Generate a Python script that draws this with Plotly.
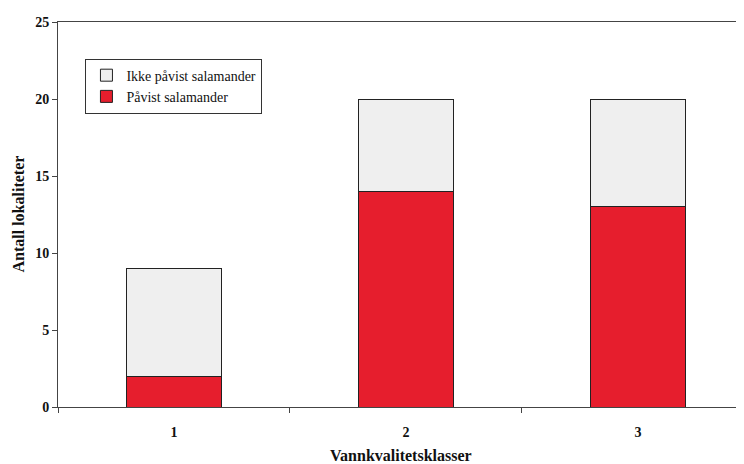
import plotly.graph_objects as go

categories = ["1", "2", "3"]
pavist = [2, 14, 13]
ikke_pavist = [7, 6, 7]
y_ticks = [0, 5, 10, 15, 20, 25]

serif = "Liberation Serif, Times New Roman, serif"

fig = go.Figure()
fig.add_trace(go.Bar(
    x=categories, y=pavist, name="Påvist salamander",
    marker=dict(color="#E61E2D", line=dict(color="#222222", width=1)),
    width=0.41,
))
fig.add_trace(go.Bar(
    x=categories, y=ikke_pavist, name="Ikke påvist salamander",
    marker=dict(color="#EFEFEF", line=dict(color="#222222", width=1)),
    width=0.41,
))

fig.update_layout(
    barmode="stack",
    width=736, height=456,
    margin=dict(l=50, r=0, t=14, b=57, autoexpand=False),
    paper_bgcolor="white", plot_bgcolor="white",
    font=dict(family=serif, color="#111111"),
    showlegend=True,
    legend=dict(
        x=0.04, y=0.905, xanchor="left", yanchor="top",
        traceorder="reversed",
        bgcolor="white", bordercolor="#333333", borderwidth=1,
        font=dict(family=serif, size=14, color="#111111"),
        itemwidth=30, tracegroupgap=0,
    ),
    xaxis=dict(
        type="category",
        range=[-0.5, 2.457],
        tickson="boundaries",
        ticks="outside", ticklen=5, tickcolor="#444444",
        showline=True, linecolor="#444444", linewidth=1, mirror=True,
        showgrid=False, automargin=False,
        tickfont=dict(family=serif, size=14, color="#111111"),
        ticklabelstandoff=12,
        tickvals=categories,
        ticktext=[f"<b>{c}</b>" for c in categories],
    ),
    yaxis=dict(
        range=[0, 25],
        tickvals=y_ticks,
        ticktext=[f"<b>{v}</b>" for v in y_ticks],
        ticks="outside", ticklen=5, tickcolor="#444444",
        showline=True, linecolor="#444444", linewidth=1,
        showgrid=False, zeroline=False, automargin=False,
        tickfont=dict(family=serif, size=14, color="#111111"),
    ),
    annotations=[
        dict(text="<b>Vannkvalitetsklasser</b>", xref="paper", yref="paper",
             x=0.5, y=0, xanchor="center", yanchor="middle", yshift=-48,
             showarrow=False, font=dict(family=serif, size=16, color="#111111")),
        dict(text="<b>Antall lokaliteter</b>", xref="paper", yref="paper",
             x=0, y=0.5, xanchor="center", yanchor="middle", xshift=-40,
             textangle=-90, showarrow=False,
             font=dict(family=serif, size=16, color="#111111")),
    ],
)

fig.write_html("out.html")
